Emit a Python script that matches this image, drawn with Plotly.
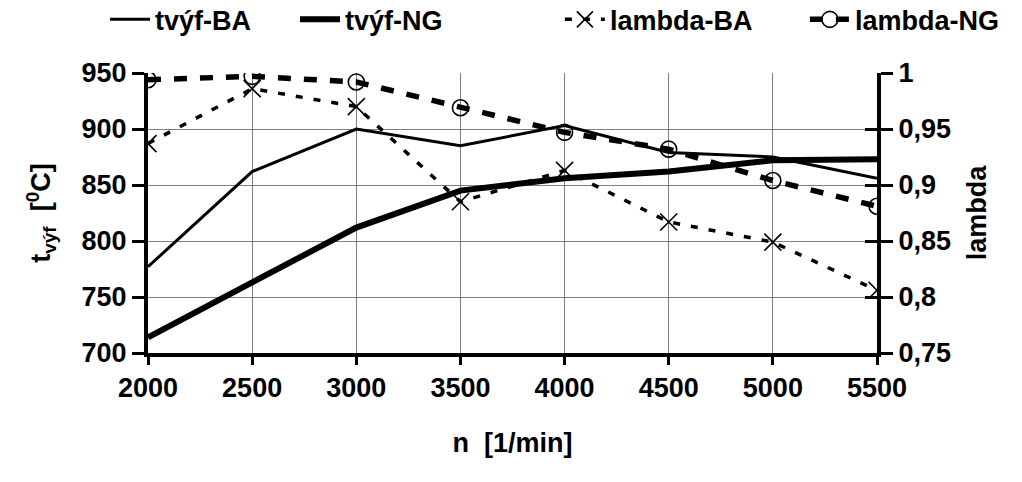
import plotly.graph_objects as go

n_rpm = [2000, 2500, 3000, 3500, 4000, 4500, 5000, 5500]
t_vyf_BA = [777, 862, 900, 885, 903, 879, 875, 856]
t_vyf_NG = [714, 763, 812, 845, 856, 862, 872, 873]
lambda_BA = [0.937, 0.986, 0.970, 0.885, 0.913, 0.867, 0.849, 0.806]
lambda_NG = [0.994, 0.997, 0.992, 0.969, 0.947, 0.932, 0.904, 0.881]

x_ticks = [2000, 2500, 3000, 3500, 4000, 4500, 5000, 5500]
y_ticks = [700, 750, 800, 850, 900, 950]
y2_ticks = [0.75, 0.8, 0.85, 0.9, 0.95, 1.0]
y2_labels = ["0,75", "0,8", "0,85", "0,9", "0,95", "1"]

FONT = "Liberation Sans, Arial, sans-serif"
FS = 27
BOLD = dict(family=FONT, size=FS, weight="bold", color="black")

fig = go.Figure()
fig.add_trace(go.Scatter(x=n_rpm, y=t_vyf_BA, name="tvýf-BA", mode="lines",
                         legend="legend",
                         line=dict(color="black", width=3)))
fig.add_trace(go.Scatter(x=n_rpm, y=t_vyf_NG, name="tvýf-NG", mode="lines",
                         legend="legend",
                         line=dict(color="black", width=6)))
fig.add_trace(go.Scatter(x=n_rpm, y=lambda_BA, name="lambda-BA", mode="lines+markers",
                         yaxis="y2", legend="legend2",
                         line=dict(color="black", width=3.5, dash="7px,11px"),
                         marker=dict(symbol="x-thin", size=17, color="black",
                                     line=dict(color="black", width=1.6))))
fig.add_trace(go.Scatter(x=n_rpm, y=lambda_NG, name="lambda-NG", mode="lines+markers",
                         yaxis="y2", legend="legend2",
                         line=dict(color="black", width=5.5, dash="13px,13px"),
                         marker=dict(symbol="circle-open", size=16, color="black",
                                     line=dict(color="black", width=1.6))))
# invisible helper trace so the crossing tick marks of the right axis are drawn
fig.add_trace(go.Scatter(x=n_rpm, y=lambda_NG, yaxis="y3", mode="lines",
                         line=dict(width=0), opacity=0, showlegend=False,
                         hoverinfo="skip"))

leg_common = dict(orientation="h", xref="paper", yref="paper", xanchor="left",
                  y=1.19, yanchor="middle", font=BOLD, entrywidthmode="pixels",
                  itemwidth=40, tracegroupgap=0, bgcolor="rgba(0,0,0,0)")

fig.update_layout(
    width=1022, height=482,
    margin=dict(l=148, r=145, t=73, b=129, autoexpand=False),
    paper_bgcolor="white", plot_bgcolor="white",
    font=BOLD,
    showlegend=True,
    legend=dict(leg_common, x=-0.059, entrywidth=135),
    legend2=dict(leg_common, x=0.565, entrywidth=190),
    xaxis=dict(range=[2000, 5500], tickvals=x_ticks, ticks="outside", ticklen=8,
               tickwidth=3, tickcolor="black",
               showline=True, linecolor="black", linewidth=4,
               showgrid=True, gridcolor="#808080", gridwidth=1, zeroline=False,
               title=dict(text="n  [1/min]", standoff=32, font=BOLD),
               tickfont=BOLD),
    yaxis=dict(range=[700, 950], tickvals=y_ticks, ticks="outside", ticklen=12,
               tickwidth=3, tickcolor="black",
               showline=True, linecolor="black", linewidth=4,
               showgrid=True, gridcolor="#808080", gridwidth=1, zeroline=False,
               title=dict(text="t<sub>výf</sub>  [<sup>0</sup>C]", standoff=24, font=BOLD),
               tickfont=BOLD),
    yaxis2=dict(range=[0.75, 1.0], tickvals=y2_ticks, ticktext=y2_labels,
                overlaying="y", side="right", ticks="outside", ticklen=12,
                tickwidth=3, tickcolor="black",
                showline=True, linecolor="black", linewidth=4,
                showgrid=False, zeroline=False,
                title=dict(text="lambda", standoff=18, font=BOLD),
                tickfont=BOLD),
    yaxis3=dict(range=[0.75, 1.0], tickvals=y2_ticks,
                overlaying="y", side="right", anchor="x", ticks="inside", ticklen=12,
                tickwidth=3, tickcolor="black", showticklabels=False,
                showline=False, showgrid=False, zeroline=False),
)

fig.write_html("out.html")
